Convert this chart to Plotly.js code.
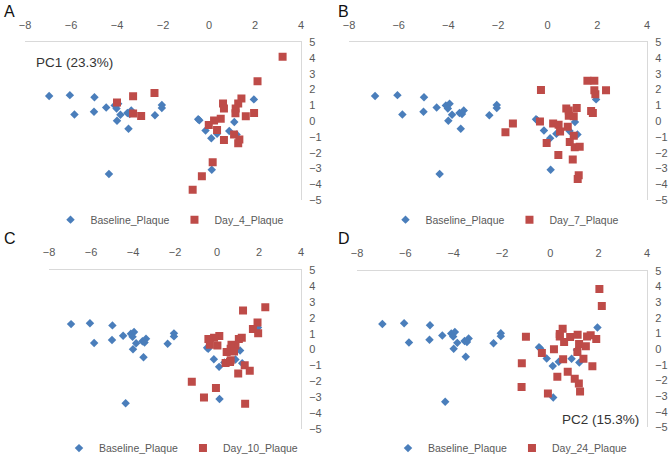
<!DOCTYPE html>
<html>
<head>
<meta charset="utf-8">
<script src="https://cdn.plot.ly/plotly-3.0.1.min.js"></script>
<style>
  html, body { margin: 0; padding: 0; background: #fff; }
  #chart { width: 668px; height: 463px; }
</style>
</head>
<body>
<div id="chart"></div>
<script>
// baseline plaque, same in every panel
const baseX = [-6.95, -6.05, -5.85, -4.98, -5.0, -4.47, -4.1, -3.95, -4.02, -4.0, -3.85, -3.55, -3.5, -3.38, -3.45, -4.35, -2.35, -2.05, -2.05, -0.47, -0.42, -0.15, 0.1, 0.35, 0.12, 1.1, 0.88, 1.2, 1.95];
const baseY = [1.6, 1.65, 0.42, 1.52, 0.6, 0.87, 1.0, 1.1, 0.8, 0.03, 0.4, 0.52, -0.48, 0.68, 0.45, -3.36, 0.37, 1.02, 0.83, 0.12, 0.05, -0.6, -1.08, -0.8, -3.09, -0.05, -0.62, -0.85, 1.38];

const day4X = [3.2, 2.11, -2.37, -3.3, -4.0, -3.3, -2.95, 0.61, 0.65, 1.41, 1.27, 1.16, 1.15, 1.6, 1.96, 0.51, 0.22, -0.01, 0.35, 1.09, 0.65, 1.32, 1.27, 0.16, -0.31, -0.71];
const day4Y = [4.09, 2.53, 1.78, 1.58, 1.18, 0.48, 0.33, 1.12, 0.81, 1.43, 1.12, 0.81, 0.5, 0.31, 0.52, 0.15, 0.04, -0.25, -0.56, -0.85, -1.2, -1.16, -1.41, -2.61, -3.49, -4.36];

const day7X = [1.6, 1.88, 2.35, 1.88, 1.92, -0.27, 1.75, 1.82, 0.75, 0.85, 1.17, 0.85, 1.05, -0.31, 0.22, 0.44, 0.81, 0.5, -1.4, -1.7, 1.05, -0.04, 0.89, 1.09, 1.29, 0.43, 1.01, 1.25, 1.21];
const day7Y = [2.56, 2.56, 1.96, 1.96, 1.71, 1.98, 0.65, 0.52, 0.81, 0.67, 0.83, 0.35, 0.31, -0.02, -0.15, -0.23, -0.35, -0.65, -0.15, -0.71, -0.92, -1.38, -1.33, -1.65, -1.63, -2.15, -2.44, -3.44, -3.67];

const day10X = [2.3, 1.24, 1.93, 1.71, 1.96, 1.18, 1.04, 0.11, -0.14, -0.41, -0.34, 0.02, 0.69, 0.88, 0.65, 0.46, 0.81, 0.65, 0.41, 0.62, 1.32, 1.56, 1.01, -1.2, -0.05, -0.62, 1.34];
const day10Y = [2.65, 2.46, 1.7, 1.29, 1.02, 0.75, 0.67, 0.86, 0.75, 0.67, 0.3, 0.26, 0.3, 0.26, 0.05, -0.15, -0.11, -0.67, -0.84, -0.77, -0.98, -1.33, -1.49, -2.01, -2.4, -3.0, -3.39];

const day24X = [2.03, 2.13, 0.51, 0.39, 0.39, 0.82, 1.13, 0.57, 1.19, 1.67, 1.52, 1.9, 1.47, 1.12, 1.37, 0.15, -0.35, -1.01, -1.18, -1.19, 0.53, 1.74, 0.72, 0.29, 1.01, 1.18, 1.23, -0.1];
const day24Y = [3.84, 2.76, 1.3, 0.96, 0.8, 0.77, 0.92, 0.45, 0.33, 0.88, 0.81, 0.64, 0.18, -0.18, -0.62, -0.01, -0.24, 0.79, -0.9, -2.42, -0.64, -1.09, -1.45, -1.77, -1.89, -2.19, -2.7, -2.84];

const panels = [
  { letter: 'A', name: 'Day_4_Plaque', x: day4X, y: day4Y },
  { letter: 'B', name: 'Day_7_Plaque', x: day7X, y: day7Y },
  { letter: 'C', name: 'Day_10_Plaque', x: day10X, y: day10Y },
  { letter: 'D', name: 'Day_24_Plaque', x: day24X, y: day24Y }
];

const blue = '#4a7ebb';
const red = '#be4b48';
const tickColor = '#595959';
const font = 'Liberation Sans, Arial, sans-serif';

// pixel boxes of each plot area, turned into paper domains
const W = 668, H = 463;
const boxes = [
  { x0: 25, x1: 301, y0: 43, y1: 203, lx: 170, ly: 223 },
  { x0: 349, x1: 647, y0: 43, y1: 203, lx: 505, ly: 223 },
  { x0: 49, x1: 301, y0: 274, y1: 436, lx: 181, ly: 455 },
  { x0: 357, x1: 647, y0: 275, y1: 434, lx: 510, ly: 455 }
];

const data = [];
const layout = {
  width: W, height: H,
  margin: { l: 0, r: 0, t: 0, b: 0 },
  paper_bgcolor: '#fff',
  plot_bgcolor: '#fff',
  font: { family: font, color: tickColor, size: 11 },
  annotations: []
};

panels.forEach((p, i) => {
  const n = i + 1;
  const sfx = n === 1 ? '' : String(n);
  const legendId = 'legend' + sfx;
  const b = boxes[i];

  data.push({
    x: baseX, y: baseY, type: 'scatter', mode: 'markers',
    name: 'Baseline_Plaque',
    xaxis: 'x' + sfx, yaxis: 'y' + sfx, legend: legendId,
    marker: { symbol: 'diamond', size: 6.5, color: blue }
  });
  data.push({
    x: p.x, y: p.y, type: 'scatter', mode: 'markers',
    name: p.name,
    xaxis: 'x' + sfx, yaxis: 'y' + sfx, legend: legendId,
    marker: { symbol: 'square', size: 8, color: red }
  });

  layout['xaxis' + sfx] = {
    domain: [b.x0 / W, b.x1 / W],
    anchor: 'y' + sfx,
    side: 'top',
    range: [-8, 4],
    tickvals: [-8, -6, -4, -2, 0, 2, 4],
    showgrid: false, zeroline: false,
    showline: true, linecolor: '#d9d9d9', linewidth: 1,
    ticks: '', ticklabelstandoff: 8,
    tickfont: { size: 11, color: tickColor, family: font }
  };
  layout['yaxis' + sfx] = {
    domain: [1 - b.y1 / H, 1 - b.y0 / H],
    anchor: 'x' + sfx,
    side: 'right',
    range: [-5, 5],
    dtick: 1,
    showgrid: false, zeroline: false,
    showline: true, linecolor: '#d9d9d9', linewidth: 1,
    ticks: '', ticklabelstandoff: 5,
    tickfont: { size: 11, color: tickColor, family: font }
  };
  layout[legendId] = {
    orientation: 'h',
    x: b.lx / W, y: 1 - b.ly / H,
    xanchor: 'center', yanchor: 'middle',
    itemwidth: 30,
    font: { size: 10.5, color: tickColor, family: font },
    bgcolor: 'rgba(0,0,0,0)'
  };

  layout.annotations.push({
    text: p.letter, xref: 'paper', yref: 'paper',
    x: ((i % 2) * 334 + 2) / W, y: 1 - ((i < 2 ? 0 : 231) + 1) / H,
    xanchor: 'left', yanchor: 'top', showarrow: false,
    font: { size: 16, color: '#111', family: font }
  });
});

layout.annotations.push({
  text: 'PC1 (23.3%)', xref: 'paper', yref: 'paper',
  x: 34 / W, y: 1 - 63 / H, xanchor: 'left', yanchor: 'middle',
  showarrow: false, font: { size: 13.5, color: '#333', family: font }
});
layout.annotations.push({
  text: 'PC2 (15.3%)', xref: 'paper', yref: 'paper',
  x: 641 / W, y: 1 - 426 / H, xanchor: 'right', yanchor: 'middle',
  showarrow: false, font: { size: 13.5, color: '#333', family: font }
});

Plotly.newPlot('chart', data, layout, { displayModeBar: false, staticPlot: true });
</script>
</body>
</html>
